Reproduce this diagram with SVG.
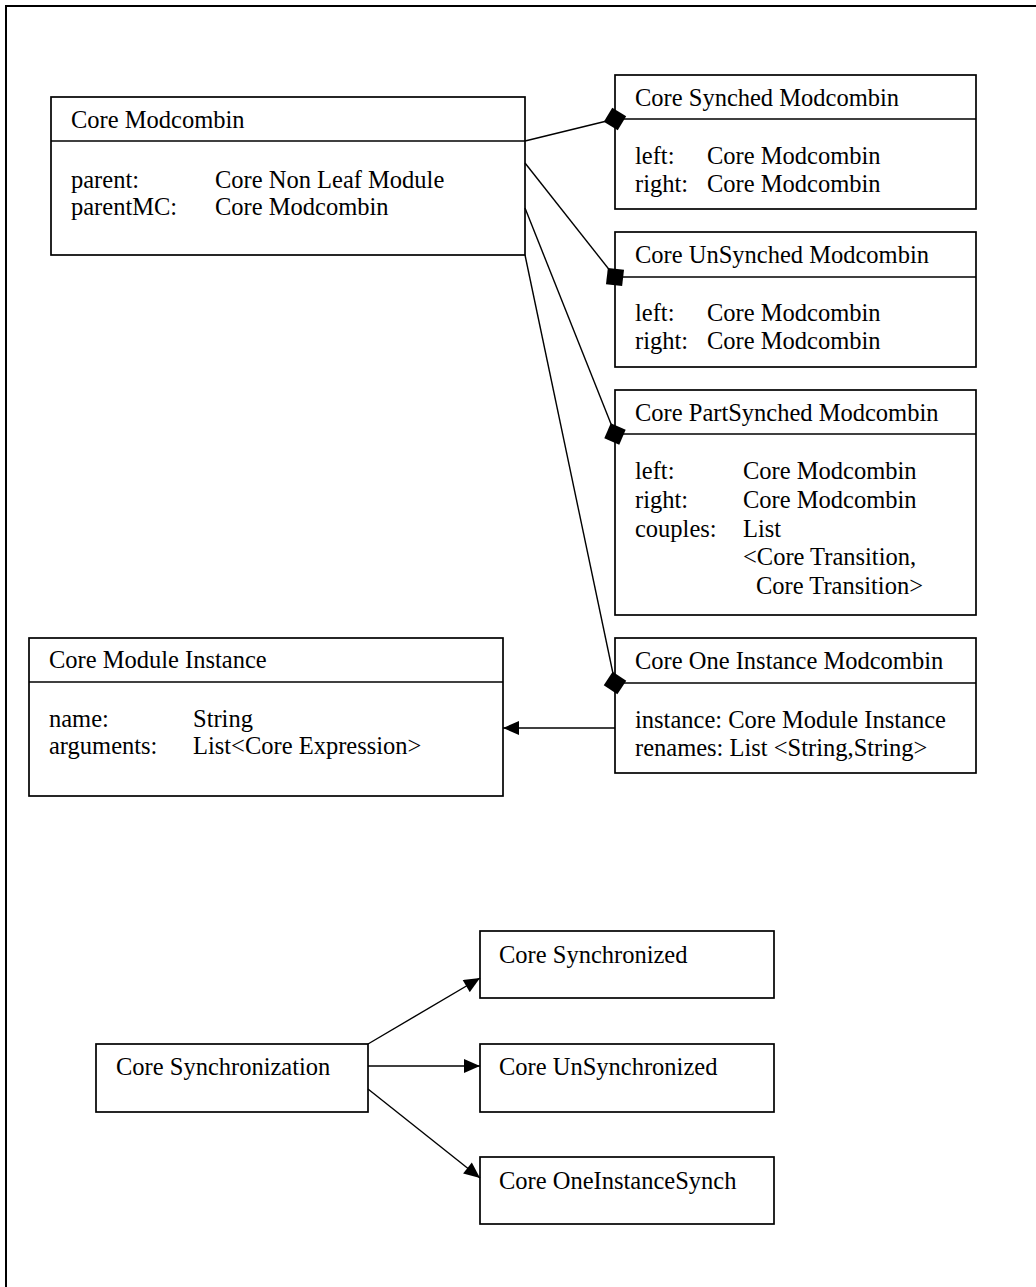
<svg xmlns="http://www.w3.org/2000/svg" width="1036" height="1287" viewBox="0 0 1036 1287">
  <style>
    .box { fill: #fff; stroke: #000; stroke-width: 1.7; }
    .div { stroke: #000; stroke-width: 1.7; }
    .t { font-family: "Liberation Serif", "Times New Roman", serif; font-size: 24.5px; fill: #000; }
    .ln { stroke: #000; stroke-width: 1.4; fill: none; }
    .comp { marker-end: url(#diamond); }
    .arr { marker-end: url(#arrow); }
  </style>
  <defs>
    <!-- filled diamond for composition ends, centred on the end point -->
    <marker id="diamond" markerUnits="userSpaceOnUse" markerWidth="26" markerHeight="26" viewBox="-13 -13 26 26" refX="0" refY="0" orient="auto">
      <path d="M-11.5,0 L0,-11.5 L11.5,0 L0,11.5 Z" fill="#000"/>
    </marker>
    <!-- filled triangular arrowhead, tip on the end point -->
    <marker id="arrow" markerUnits="userSpaceOnUse" markerWidth="18" markerHeight="14" viewBox="0 0 16 14" refX="16" refY="7" orient="auto">
      <path d="M0,0 L16,7 L0,14 Z" fill="#000"/>
    </marker>
  </defs>

  <rect width="1036" height="1287" fill="#fff"/>
  <!-- page frame (top and left edges) -->
  <path d="M6,1287 L6,6 L1036,6" stroke="#000" stroke-width="2" fill="none"/>

  <g id="core-modcombin">
    <rect class="box" x="51" y="97" width="474" height="158"/>
    <line class="div" x1="51" y1="141" x2="525" y2="141"/>
    <text class="t" x="71" y="128">Core Modcombin</text>
    <text class="t" x="71" y="188">parent:</text>
    <text class="t" x="215" y="188">Core Non Leaf Module</text>
    <text class="t" x="71" y="215">parentMC:</text>
    <text class="t" x="215" y="215">Core Modcombin</text>
  </g>

  <g id="core-synched-modcombin">
    <rect class="box" x="615" y="75" width="361" height="134"/>
    <line class="div" x1="615" y1="119" x2="976" y2="119"/>
    <text class="t" x="635" y="106">Core Synched Modcombin</text>
    <text class="t" x="635" y="164">left:</text>
    <text class="t" x="707" y="164">Core Modcombin</text>
    <text class="t" x="635" y="192">right:</text>
    <text class="t" x="707" y="192">Core Modcombin</text>
  </g>

  <g id="core-unsynched-modcombin">
    <rect class="box" x="615" y="232" width="361" height="135"/>
    <line class="div" x1="615" y1="277" x2="976" y2="277"/>
    <text class="t" x="635" y="263">Core UnSynched Modcombin</text>
    <text class="t" x="635" y="321">left:</text>
    <text class="t" x="707" y="321">Core Modcombin</text>
    <text class="t" x="635" y="349">right:</text>
    <text class="t" x="707" y="349">Core Modcombin</text>
  </g>

  <g id="core-partsynched-modcombin">
    <rect class="box" x="615" y="390" width="361" height="225"/>
    <line class="div" x1="615" y1="434" x2="976" y2="434"/>
    <text class="t" x="635" y="421">Core PartSynched Modcombin</text>
    <text class="t" x="635" y="479">left:</text>
    <text class="t" x="743" y="479">Core Modcombin</text>
    <text class="t" x="635" y="508">right:</text>
    <text class="t" x="743" y="508">Core Modcombin</text>
    <text class="t" x="635" y="537">couples:</text>
    <text class="t" x="743" y="537">List</text>
    <text class="t" x="743" y="565">&lt;Core Transition,</text>
    <text class="t" x="756" y="594">Core Transition&gt;</text>
  </g>

  <g id="core-one-instance-modcombin">
    <rect class="box" x="615" y="638" width="361" height="135"/>
    <line class="div" x1="615" y1="683" x2="976" y2="683"/>
    <text class="t" x="635" y="669">Core One Instance Modcombin</text>
    <text class="t" x="635" y="728">instance: Core Module Instance</text>
    <text class="t" x="635" y="756">renames: List &lt;String,String&gt;</text>
  </g>

  <g id="core-module-instance">
    <rect class="box" x="29" y="638" width="474" height="158"/>
    <line class="div" x1="29" y1="682" x2="503" y2="682"/>
    <text class="t" x="49" y="668">Core Module Instance</text>
    <text class="t" x="49" y="727">name:</text>
    <text class="t" x="193" y="727">String</text>
    <text class="t" x="49" y="754">arguments:</text>
    <text class="t" x="193" y="754">List&lt;Core Expression&gt;</text>
  </g>

  <g id="core-synchronization">
    <rect class="box" x="96" y="1044" width="272" height="68"/>
    <text class="t" x="116" y="1075">Core Synchronization</text>
  </g>

  <g id="core-synchronized">
    <rect class="box" x="480" y="931" width="294" height="67"/>
    <text class="t" x="499" y="963">Core Synchronized</text>
  </g>

  <g id="core-unsynchronized">
    <rect class="box" x="480" y="1044" width="294" height="68"/>
    <text class="t" x="499" y="1075">Core UnSynchronized</text>
  </g>

  <g id="core-oneinstancesynch">
    <rect class="box" x="480" y="1157" width="294" height="67"/>
    <text class="t" x="499" y="1189">Core OneInstanceSynch</text>
  </g>

  <!-- connectors drawn last so the diamond ends sit on top of the box edges -->
  <g id="connectors">
    <line class="ln comp" x1="525" y1="141" x2="615" y2="119"/>
    <line class="ln comp" x1="525" y1="163" x2="615" y2="277"/>
    <line class="ln comp" x1="525" y1="208" x2="615" y2="434"/>
    <line class="ln comp" x1="525" y1="255" x2="615" y2="683"/>
    <line class="ln arr" x1="615" y1="728" x2="503" y2="728"/>
    <line class="ln arr" x1="368" y1="1044" x2="480" y2="978"/>
    <line class="ln arr" x1="368" y1="1066" x2="480" y2="1066"/>
    <line class="ln arr" x1="368" y1="1089" x2="480" y2="1178"/>
  </g>
</svg>
